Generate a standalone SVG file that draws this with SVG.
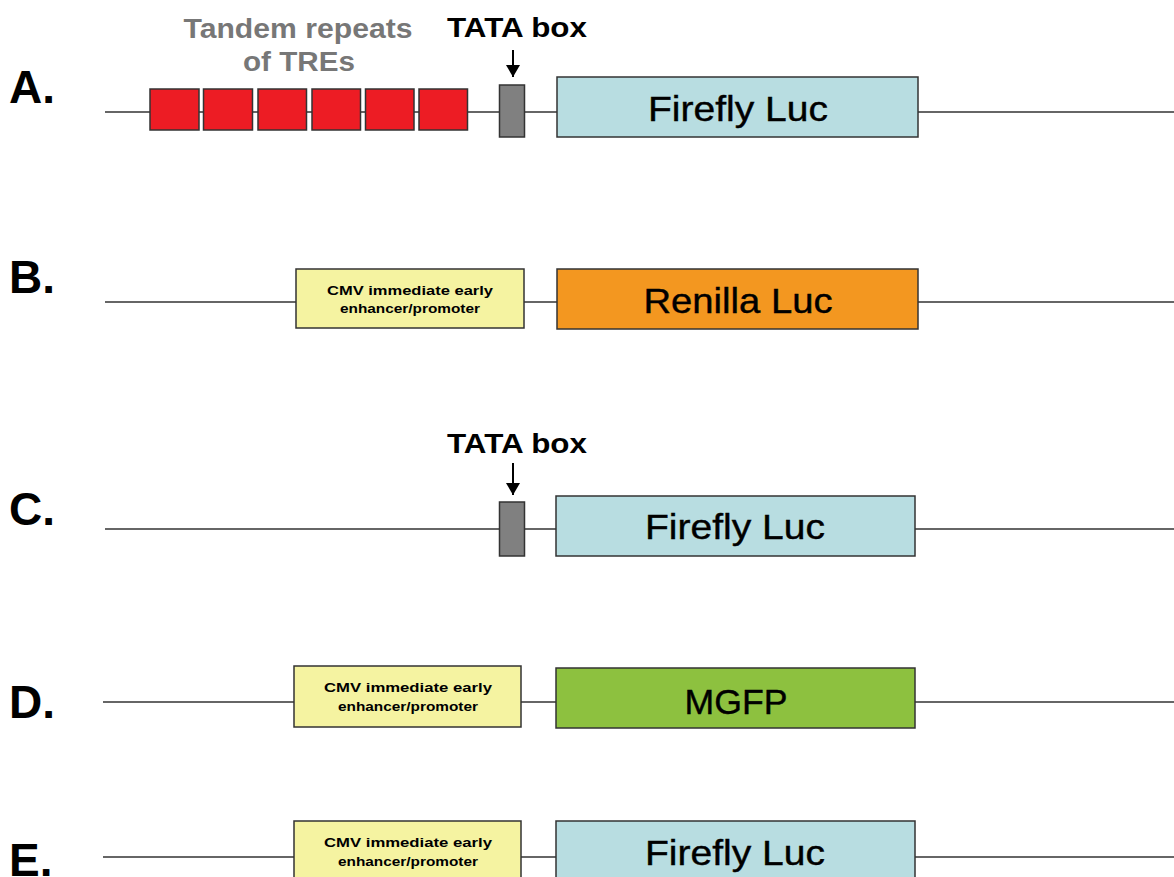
<svg xmlns="http://www.w3.org/2000/svg" width="1174" height="877" viewBox="0 0 1174 877">
<defs>
<style>
.ln{stroke:#333;stroke-width:1.5;fill:none}
.bx{stroke:#333;stroke-width:1.5}
.tre{fill:#ed1c24}
.tata{fill:#808080}
.ff{fill:#b8dde1}
.cmv{fill:#f5f3a1}
.ren{fill:#f39720}
.gfp{fill:#8dc13f}
.lab{font-family:"Liberation Sans",Arial,sans-serif;font-weight:bold;font-size:46px;fill:#000}
.big{font-family:"Liberation Sans",Arial,sans-serif;font-size:35px;fill:#000;text-anchor:middle;stroke:#000;stroke-width:0.4}
.sm{font-family:"Liberation Sans",Arial,sans-serif;font-weight:bold;font-size:13.5px;fill:#000;text-anchor:middle}
.tt{font-family:"Liberation Sans",Arial,sans-serif;font-weight:bold;font-size:27px;text-anchor:middle}
</style>
<marker id="ah" viewBox="0 0 12 14" refX="12" refY="7" markerWidth="12" markerHeight="14" markerUnits="userSpaceOnUse" orient="auto">
<path d="M0,0 L12,7 L0,14 z" fill="#000"/>
</marker>
</defs>
<rect width="1174" height="877" fill="#fff"/>

<g id="connectors">
<line class="ln" x1="105" y1="112" x2="1174" y2="112"/>
<line class="ln" x1="105" y1="302" x2="1174" y2="302"/>
<line class="ln" x1="105" y1="529" x2="1174" y2="529"/>
<line class="ln" x1="103" y1="702" x2="1174" y2="702"/>
<line class="ln" x1="103" y1="857" x2="1174" y2="857"/>
<line x1="513" y1="50" x2="513" y2="77" stroke="#000" stroke-width="2" marker-end="url(#ah)"/>
<line x1="513" y1="463" x2="513" y2="495" stroke="#000" stroke-width="2" marker-end="url(#ah)"/>
</g>

<g id="labels">
<text class="lab" x="9" y="103">A.</text>
<text class="lab" x="9" y="293">B.</text>
<text class="lab" x="9" y="525">C.</text>
<text class="lab" x="9" y="718">D.</text>
<text class="lab" x="9" y="876">E.</text>
</g>

<g id="rowA">
<text class="tt" x="298" y="38" fill="#777" textLength="229" lengthAdjust="spacingAndGlyphs">Tandem repeats</text>
<text class="tt" x="299" y="71" fill="#777" textLength="112" lengthAdjust="spacingAndGlyphs">of TREs</text>
<text class="tt" x="517" y="37" fill="#000" textLength="140" lengthAdjust="spacingAndGlyphs">TATA box</text>
<g id="tre1"><rect class="bx tre" x="150" y="89" width="49" height="41"/></g>
<g id="tre2"><rect class="bx tre" x="203.5" y="89" width="49" height="41"/></g>
<g id="tre3"><rect class="bx tre" x="258" y="89" width="48.5" height="41"/></g>
<g id="tre4"><rect class="bx tre" x="312" y="89" width="48.5" height="41"/></g>
<g id="tre5"><rect class="bx tre" x="365.5" y="89" width="48.5" height="41"/></g>
<g id="tre6"><rect class="bx tre" x="419" y="89" width="48.5" height="41"/></g>
<g id="tataA"><rect class="bx tata" x="499.5" y="85" width="25" height="52"/></g>
<g id="ffA"><rect class="bx ff" x="557" y="77" width="361" height="60"/>
<text class="big" x="738" y="121" textLength="180" lengthAdjust="spacingAndGlyphs">Firefly Luc</text></g>
</g>

<g id="rowB">
<g id="cmvB"><rect class="bx cmv" x="296" y="269" width="228" height="59"/>
<text class="sm" x="410" y="295" textLength="166" lengthAdjust="spacingAndGlyphs">CMV immediate early</text>
<text class="sm" x="410" y="313" textLength="140" lengthAdjust="spacingAndGlyphs">enhancer/promoter</text></g>
<g id="renB"><rect class="bx ren" x="557" y="269" width="361" height="60"/>
<text class="big" x="738" y="313" textLength="189" lengthAdjust="spacingAndGlyphs">Renilla Luc</text></g>
</g>

<g id="rowC">
<text class="tt" x="517" y="453" fill="#000" textLength="140" lengthAdjust="spacingAndGlyphs">TATA box</text>
<g id="tataC"><rect class="bx tata" x="499.5" y="502" width="25" height="54"/></g>
<g id="ffC"><rect class="bx ff" x="556" y="496" width="359" height="60"/>
<text class="big" x="735" y="539" textLength="180" lengthAdjust="spacingAndGlyphs">Firefly Luc</text></g>
</g>

<g id="rowD">
<g id="cmvD"><rect class="bx cmv" x="294" y="666" width="227" height="61"/>
<text class="sm" x="408" y="692" textLength="168" lengthAdjust="spacingAndGlyphs">CMV immediate early</text>
<text class="sm" x="408" y="711" textLength="140" lengthAdjust="spacingAndGlyphs">enhancer/promoter</text></g>
<g id="gfpD"><rect class="bx gfp" x="556" y="668" width="359" height="60"/>
<text class="big" x="736" y="714" textLength="103" lengthAdjust="spacingAndGlyphs">MGFP</text></g>
</g>

<g id="rowE">
<g id="cmvE"><rect class="bx cmv" x="294" y="821" width="227" height="70"/>
<text class="sm" x="408" y="847" textLength="168" lengthAdjust="spacingAndGlyphs">CMV immediate early</text>
<text class="sm" x="408" y="866" textLength="140" lengthAdjust="spacingAndGlyphs">enhancer/promoter</text></g>
<g id="ffE"><rect class="bx ff" x="556" y="821" width="359" height="70"/>
<text class="big" x="735" y="865" textLength="180" lengthAdjust="spacingAndGlyphs">Firefly Luc</text></g>
</g>
</svg>
